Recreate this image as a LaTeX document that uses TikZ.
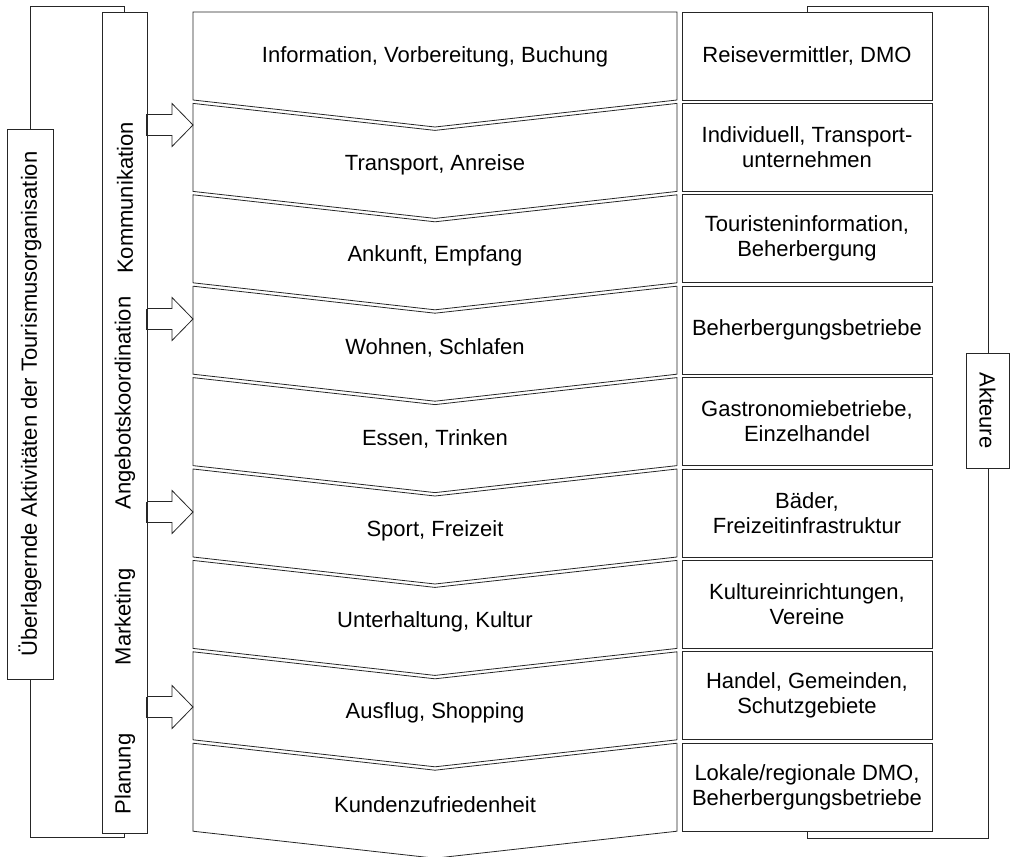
\documentclass[tikz,border=0pt]{standalone}
\usepackage{fontspec}
\setmainfont{Liberation Sans}
\begin{document}
\begin{tikzpicture}[x=1pt,y=-1pt,
  outline/.style={draw=black!85, line width=0.9pt, fill=white},
  lbl/.style={font=\fontsize{22}{25}\selectfont, inner sep=0pt},
  lbltwo/.style={lbl, align=center},
  framebox/.style={outline, inner sep=0pt},
  bracketline/.style={draw=black!85, line width=1pt}]
\useasboundingbox (0,0) rectangle (1011,856);

% ---- left bracket with its label box ----
\draw[bracketline] (124.5,20) -- (124.5,7) -- (30,7) -- (30,837) -- (124.5,837) -- (124.5,825);
\node[framebox, minimum width=46pt, minimum height=550pt] (ueber) at (30,404) {};
\node[lbl, rotate=90] (ueberlbl) at (ueber.center) {Überlagernde Aktivitäten der Tourismusorganisation};

% ---- activity column ----
\node[framebox, minimum width=45pt, minimum height=821pt] (col) at (124.5,422.5) {};
\node[lbl, rotate=90] (komm) at (125,198) {Kommunikation};
\node[lbl, rotate=90] (angebot) at (125,403) {Angebotskoordination};
\node[lbl, rotate=90] (mark) at (125,617) {Marketing};
\node[lbl, rotate=90] (plan) at (125,774) {Planung};

% ---- right bracket with its label box ----
\draw[bracketline] (807,20) -- (807,7) -- (988,7) -- (988,838) -- (807,838) -- (807,825);
\node[framebox, minimum width=43pt, minimum height=115pt] (akt) at (987.5,410.5) {};
\node[lbl, rotate=-90] (aktlbl) at (akt.center) {Akteure};

% ---- chevron chain of the travel stages ----
\def\L{193}\def\R{677}\def\C{435}\def\dip{27}
\foreach \k/\txt in {0/{Information, Vorbereitung, Buchung},
                     1/{Transport, Anreise},
                     2/{Ankunft, Empfang},
                     3/{Wohnen, Schlafen},
                     4/{Essen, Trinken},
                     5/{Sport, Freizeit},
                     6/{Unterhaltung, Kultur},
                     7/{Ausflug, Shopping},
                     8/{Kundenzufriedenheit}} {
  \pgfmathsetmacro\t{12+91.4*\k}
  \pgfmathsetmacro\b{\t+88}
  \pgfmathsetmacro\tc{\k==0 ? \t : \t+\dip}
  \pgfmathsetmacro\ty{\k==0 ? 57 : \t+61.5}
  \draw[outline, line width=0.8pt] (\L,\t) -- (\C,\tc) -- (\R,\t) -- (\R,\b) -- (\C,\b+\dip) -- (\L,\b) -- cycle;
  \node[lbl] (stage\k) at (\C,\ty) {\txt};
}

% ---- actors per stage ----
\foreach \k/\txt in {0/{Reisevermittler, DMO},
                     1/{Individuell, Transport-\\unternehmen},
                     2/{Touristeninformation,\\Beherbergung},
                     3/{Beherbergungsbetriebe},
                     4/{Gastronomiebetriebe,\\Einzelhandel},
                     5/{Bäder,\\Freizeitinfrastruktur},
                     6/{Kultureinrichtungen,\\Vereine},
                     7/{Handel, Gemeinden,\\Schutzgebiete},
                     8/{Lokale/regionale DMO,\\Beherbergungsbetriebe}} {
  \pgfmathsetmacro\cy{12+91.4*\k+44}
  \node[framebox, minimum width=250pt, minimum height=88pt] (actor\k) at (807,\cy) {};
  \node[lbltwo] (actorlbl\k) at (actor\k.center) {\txt};
}

% ---- block arrows from the activity column into the chain ----
\foreach \ay [count=\i] in {125,319,512,707} {
  \coordinate (tail\i) at (147,\ay);
  \coordinate (tip\i) at (\L,\ay);
  \draw[outline, line width=0.8pt] (147,\ay-10.5) -- (172,\ay-10.5) -- (172,\ay-21.5) -- (tip\i)
     -- (172,\ay+21.5) -- (172,\ay+10.5) -- (147,\ay+10.5);
  \draw[draw=black!85, line width=1.4pt] (147,\ay-10.5) -- (tail\i) -- (147,\ay+10.5);
}
\end{tikzpicture}
\end{document}
